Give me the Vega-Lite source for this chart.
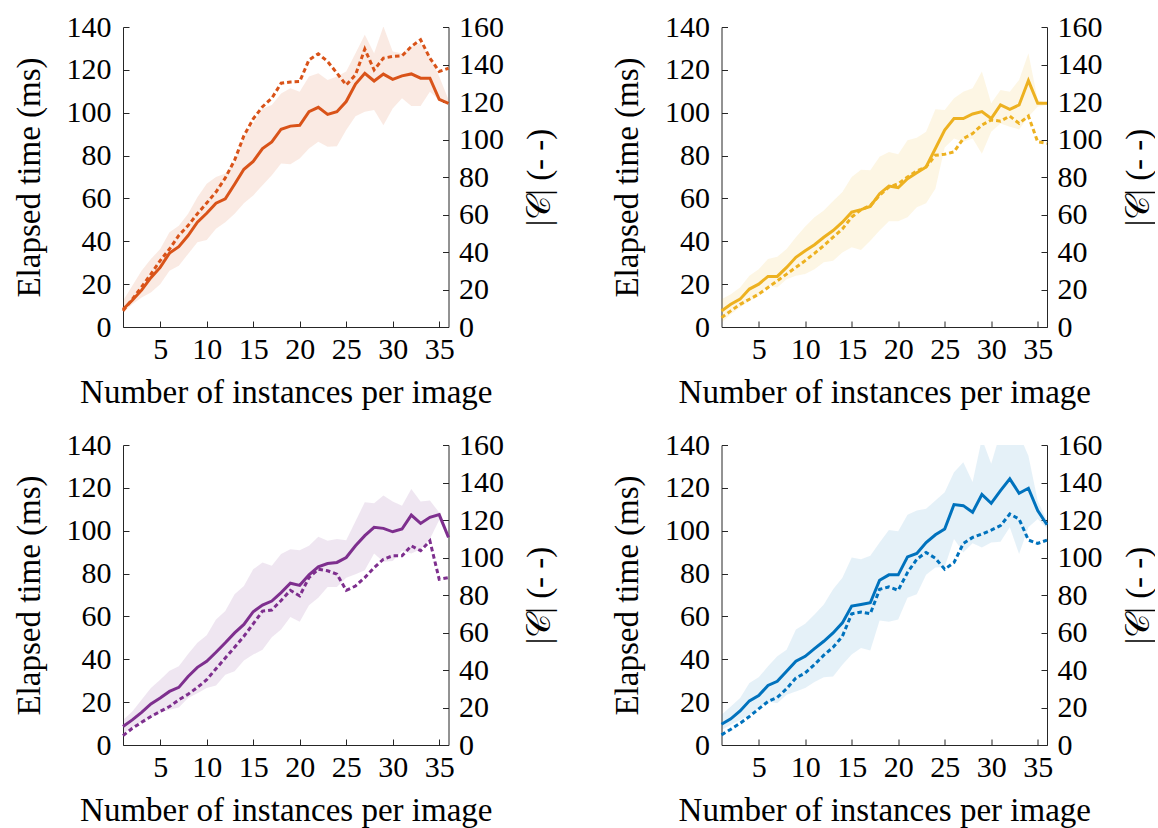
{
  "$schema": "https://vega.github.io/schema/vega-lite/v6.json",
  "padding": {"left": 12, "top": 12, "right": 0, "bottom": 0},
  "background": "white",
  "datasets": {
    "p1": [
      {"x":1,"t":8.3,"c":8.6,"lo":6.7,"hi":12.2},
      {"x":2,"t":12.5,"c":14.8,"lo":10.6,"hi":19.2},
      {"x":3,"t":17.2,"c":21.4,"lo":13.75,"hi":26.2},
      {"x":4,"t":23,"c":28.2,"lo":16.1,"hi":31.7},
      {"x":5,"t":27.8,"c":35.4,"lo":20,"hi":36.4},
      {"x":6,"t":34.5,"c":41.6,"lo":26.25,"hi":44.2},
      {"x":7,"t":37.5,"c":48.8,"lo":28.6,"hi":47.3},
      {"x":8,"t":42.7,"c":54.1,"lo":34.1,"hi":52.8},
      {"x":9,"t":48.9,"c":60.4,"lo":39.5,"hi":60.6},
      {"x":10,"t":53.1,"c":66.1,"lo":40.6,"hi":66.9},
      {"x":11,"t":57.8,"c":72,"lo":45.8,"hi":70},
      {"x":12,"t":59.8,"c":79.5,"lo":48.9,"hi":71.6},
      {"x":13,"t":66.6,"c":89,"lo":52.8,"hi":77},
      {"x":14,"t":73.6,"c":102,"lo":57.8,"hi":88.75},
      {"x":15,"t":77.3,"c":111,"lo":61.4,"hi":95},
      {"x":16,"t":83.3,"c":117.5,"lo":66.1,"hi":102},
      {"x":17,"t":86.4,"c":122,"lo":70.8,"hi":103.6},
      {"x":18,"t":92.3,"c":130,"lo":76.25,"hi":109},
      {"x":19,"t":93.75,"c":130.7,"lo":75.9,"hi":111.4},
      {"x":20,"t":94.1,"c":130.9,"lo":78.6,"hi":109.8},
      {"x":21,"t":100.5,"c":142.5,"lo":83.3,"hi":116.9},
      {"x":22,"t":102.5,"c":145.7,"lo":86.4,"hi":118.4},
      {"x":23,"t":99.2,"c":141.6,"lo":84.1,"hi":115.3},
      {"x":24,"t":100.5,"c":135.4,"lo":84.4,"hi":116.9},
      {"x":25,"t":105.2,"c":129.1,"lo":91.9,"hi":119.2},
      {"x":26,"t":113.4,"c":134.5,"lo":98.4,"hi":127.8},
      {"x":27,"t":118.4,"c":148.2,"lo":100.5,"hi":136.4},
      {"x":28,"t":114.8,"c":137.1,"lo":101.25,"hi":127.8},
      {"x":29,"t":118,"c":143.4,"lo":94.2,"hi":140.3},
      {"x":30,"t":115.6,"c":144.3,"lo":102,"hi":128.6},
      {"x":31,"t":117.2,"c":144.6,"lo":106.7,"hi":127.8},
      {"x":32,"t":118.1,"c":149.6,"lo":103.1,"hi":130.9},
      {"x":33,"t":116.1,"c":153.2,"lo":103.1,"hi":132.5},
      {"x":34,"t":116.1,"c":143.4,"lo":109.8,"hi":126.25},
      {"x":35,"t":106.25,"c":136.3,"lo":105.9,"hi":116.9},
      {"x":36,"t":104.4,"c":138,"lo":103.6,"hi":106}
    ],
    "p2": [
      {"x":1,"t":7.5,"c":5,"lo":2,"hi":13},
      {"x":2,"t":10.6,"c":8.6,"lo":5.9,"hi":15.3},
      {"x":3,"t":13,"c":12.1,"lo":9.1,"hi":18.4},
      {"x":4,"t":17.7,"c":14.8,"lo":12.2,"hi":23.9},
      {"x":5,"t":20,"c":17.5,"lo":14.5,"hi":27},
      {"x":6,"t":23.6,"c":21.1,"lo":19.2,"hi":31.7},
      {"x":7,"t":23.6,"c":24.6,"lo":18.4,"hi":32.8},
      {"x":8,"t":27.8,"c":28.2,"lo":22.3,"hi":36.4},
      {"x":9,"t":32.5,"c":31.8,"lo":23.9,"hi":41.9},
      {"x":10,"t":35.6,"c":35.4,"lo":24.7,"hi":46.9},
      {"x":11,"t":38.4,"c":39.3,"lo":27,"hi":51.25},
      {"x":12,"t":41.9,"c":43.4,"lo":30.2,"hi":54.4},
      {"x":13,"t":45,"c":47.9,"lo":30.9,"hi":58.75},
      {"x":14,"t":48.9,"c":52.3,"lo":34.8,"hi":63},
      {"x":15,"t":53.6,"c":58.6,"lo":37.2,"hi":70},
      {"x":16,"t":54.8,"c":62.5,"lo":35.9,"hi":73.4},
      {"x":17,"t":56.25,"c":64.8,"lo":40.3,"hi":73.1},
      {"x":18,"t":62.2,"c":70.2,"lo":45,"hi":79.4},
      {"x":19,"t":65.8,"c":74.6,"lo":49.4,"hi":81.7},
      {"x":20,"t":65,"c":76.4,"lo":49.4,"hi":80.6},
      {"x":21,"t":69.2,"c":80,"lo":51.25,"hi":87.2},
      {"x":22,"t":72,"c":83.2,"lo":55.9,"hi":88.3},
      {"x":23,"t":74.7,"c":85.4,"lo":57.8,"hi":91.1},
      {"x":24,"t":83.3,"c":91.6,"lo":64.5,"hi":101.6},
      {"x":25,"t":91.9,"c":92.1,"lo":83.75,"hi":101.25},
      {"x":26,"t":97.3,"c":93.4,"lo":88,"hi":106.7},
      {"x":27,"t":97.3,"c":100.5,"lo":86.4,"hi":109.8},
      {"x":28,"t":99.4,"c":103.2,"lo":88,"hi":111.4},
      {"x":29,"t":100.5,"c":107.7,"lo":80.9,"hi":119.2},
      {"x":30,"t":97.3,"c":110.4,"lo":91.1,"hi":104.4},
      {"x":31,"t":103.6,"c":109.8,"lo":95,"hi":110.6},
      {"x":32,"t":101.6,"c":112.5,"lo":93.4,"hi":109.8},
      {"x":33,"t":103.6,"c":108.6,"lo":92.2,"hi":115.3},
      {"x":34,"t":115,"c":112.5,"lo":98.1,"hi":127.8},
      {"x":35,"t":104.4,"c":98.75,"lo":102.8,"hi":106},
      {"x":36,"t":104.4,"c":97.9,"lo":103.6,"hi":104.4}
    ],
    "p3": [
      {"x":1,"t":8.6,"c":5,"lo":5.5,"hi":11.7},
      {"x":2,"t":11.7,"c":8.9,"lo":8.1,"hi":15.6},
      {"x":3,"t":15.2,"c":12.1,"lo":10.9,"hi":21.1},
      {"x":4,"t":19.2,"c":15.2,"lo":12.5,"hi":26.6},
      {"x":5,"t":21.9,"c":17.9,"lo":15.2,"hi":30.5},
      {"x":6,"t":25,"c":20.5,"lo":16.4,"hi":34.7},
      {"x":7,"t":26.9,"c":24.1,"lo":17.5,"hi":36.7},
      {"x":8,"t":32,"c":27.1,"lo":21.9,"hi":42.5},
      {"x":9,"t":36.25,"c":30.7,"lo":24.2,"hi":47.7},
      {"x":10,"t":39.1,"c":34.8,"lo":26.6,"hi":51.25},
      {"x":11,"t":43.3,"c":40.7,"lo":27.8,"hi":58.6},
      {"x":12,"t":47.7,"c":46.4,"lo":32.8,"hi":62.5},
      {"x":13,"t":52.3,"c":52.1,"lo":34.4,"hi":70.3},
      {"x":14,"t":56.25,"c":58,"lo":39.4,"hi":74.2},
      {"x":15,"t":62.2,"c":64.6,"lo":42.2,"hi":82},
      {"x":16,"t":65.3,"c":71.4,"lo":44.5,"hi":85.2},
      {"x":17,"t":67.2,"c":72,"lo":50.3,"hi":83.6},
      {"x":18,"t":71.1,"c":77.1,"lo":53.9,"hi":89.1},
      {"x":19,"t":75.5,"c":82.5,"lo":59.7,"hi":91.4},
      {"x":20,"t":74.5,"c":79.5,"lo":57.5,"hi":90.9},
      {"x":21,"t":79.4,"c":89.3,"lo":65.2,"hi":93},
      {"x":22,"t":83.1,"c":93.75,"lo":68.75,"hi":97.2},
      {"x":23,"t":84.7,"c":92.9,"lo":73.75,"hi":95.3},
      {"x":24,"t":85.2,"c":91.1,"lo":73.75,"hi":96.1},
      {"x":25,"t":87.5,"c":82.5,"lo":78.1,"hi":95.6},
      {"x":26,"t":93,"c":84.8,"lo":79.7,"hi":104.4},
      {"x":27,"t":97.7,"c":89.3,"lo":81.6,"hi":113.3},
      {"x":28,"t":101.6,"c":94.6,"lo":89.4,"hi":112.8},
      {"x":29,"t":101.1,"c":99.1,"lo":85.5,"hi":116.4},
      {"x":30,"t":99.5,"c":100.9,"lo":85.9,"hi":113.6},
      {"x":31,"t":100.8,"c":100.9,"lo":90.6,"hi":111.7},
      {"x":32,"t":107.3,"c":106.25,"lo":89.4,"hi":119.5},
      {"x":33,"t":103.4,"c":103.6,"lo":91.4,"hi":113.6},
      {"x":34,"t":106.25,"c":108.9,"lo":96.1,"hi":114.1},
      {"x":35,"t":107.5,"c":88.4,"lo":105,"hi":108.5},
      {"x":36,"t":96.9,"c":89.3,"lo":96.5,"hi":97.3}
    ],
    "p4": [
      {"x":1,"t":9.7,"c":5.4,"lo":7,"hi":14.1},
      {"x":2,"t":12.2,"c":8.4,"lo":9.4,"hi":18},
      {"x":3,"t":15.9,"c":11.6,"lo":11.7,"hi":21.9},
      {"x":4,"t":20.6,"c":15.2,"lo":14.1,"hi":28.9},
      {"x":5,"t":23.1,"c":19.3,"lo":17.2,"hi":31.6},
      {"x":6,"t":27.8,"c":23.2,"lo":20.3,"hi":36.7},
      {"x":7,"t":29.7,"c":25.4,"lo":19.5,"hi":41.4},
      {"x":8,"t":34.4,"c":30,"lo":23.4,"hi":44.5},
      {"x":9,"t":39.1,"c":35.7,"lo":25,"hi":53.9},
      {"x":10,"t":41.4,"c":38.4,"lo":26.6,"hi":56.6},
      {"x":11,"t":45,"c":42.9,"lo":29.4,"hi":60.9},
      {"x":12,"t":48.4,"c":47.9,"lo":31.6,"hi":65.6},
      {"x":13,"t":52.3,"c":52.1,"lo":32,"hi":72.7},
      {"x":14,"t":57,"c":58,"lo":37.5,"hi":78.1},
      {"x":15,"t":64.8,"c":70,"lo":42.2,"hi":87.5},
      {"x":16,"t":65.6,"c":70.9,"lo":45.3,"hi":86.7},
      {"x":17,"t":66.4,"c":70,"lo":44.1,"hi":88.3},
      {"x":18,"t":76.9,"c":83,"lo":58.1,"hi":94.5},
      {"x":19,"t":79.4,"c":84.3,"lo":57.5,"hi":100.3},
      {"x":20,"t":79.4,"c":82.5,"lo":58.6,"hi":99.7},
      {"x":21,"t":87.8,"c":92,"lo":68.75,"hi":107.5},
      {"x":22,"t":89.4,"c":99.1,"lo":70.3,"hi":109.4},
      {"x":23,"t":94.5,"c":102.7,"lo":79.4,"hi":110.2},
      {"x":24,"t":98.1,"c":99.6,"lo":82.8,"hi":114.1},
      {"x":25,"t":100.8,"c":93.75,"lo":83.1,"hi":118},
      {"x":26,"t":112.2,"c":97.3,"lo":96.1,"hi":127.3},
      {"x":27,"t":111.7,"c":107.5,"lo":89.8,"hi":132},
      {"x":28,"t":108.6,"c":110.7,"lo":94.1,"hi":122.7},
      {"x":29,"t":116.9,"c":112.5,"lo":92.2,"hi":143},
      {"x":30,"t":112.8,"c":114.6,"lo":94.5,"hi":131.25},
      {"x":31,"t":118.75,"c":117,"lo":94.8,"hi":146},
      {"x":32,"t":124.2,"c":123.2,"lo":101.6,"hi":150},
      {"x":33,"t":117.5,"c":120.5,"lo":89.1,"hi":145},
      {"x":34,"t":119.8,"c":109.3,"lo":101.6,"hi":135},
      {"x":35,"t":109.4,"c":107.5,"lo":105.5,"hi":114},
      {"x":36,"t":102.8,"c":109.3,"lo":101,"hi":104.7}
    ]
  },
  "columns": 2,
  "spacing": {"row": 118, "column": 272.5},
  "bounds": "flush",
  "concat": [
    {
      "width": 325.5, "height": 300,
      "data": {"name": "p1"},
      "layer": [
        {"mark": {"type": "area", "color": "#D95319", "opacity": 0.12, "clip": true},
         "encoding": {
           "x": {"field": "x", "type": "quantitative", "scale": {"domain": [1, 36], "nice": false}, "axis": {"values": [5,10,15,20,25,30,35], "title": "Number of instances per image"}},
           "y": {"field": "lo", "type": "quantitative", "scale": {"domain": [0, 140], "nice": false}, "axis": null},
           "y2": {"field": "hi"}}},
        {"mark": {"type": "line", "color": "#D95319", "strokeWidth": 3},
         "encoding": {
           "x": {"field": "x", "type": "quantitative", "scale": {"domain": [1, 36], "nice": false}, "axis": {"values": [5,10,15,20,25,30,35], "title": "Number of instances per image"}},
           "y": {"field": "t", "type": "quantitative", "scale": {"domain": [0, 140], "nice": false}, "axis": {"orient": "left", "values": [0,20,40,60,80,100,120,140], "title": "Elapsed time (ms)"}}}},
        {"mark": {"type": "line", "color": "#D95319", "strokeWidth": 3, "strokeDash": [4.5, 3]},
         "encoding": {
           "x": {"field": "x", "type": "quantitative", "scale": {"domain": [1, 36], "nice": false}, "axis": {"values": [5,10,15,20,25,30,35], "title": "Number of instances per image"}},
           "y": {"field": "c", "type": "quantitative", "scale": {"domain": [0, 160], "nice": false}, "axis": {"orient": "right", "values": [0,20,40,60,80,100,120,140,160], "title": "|𝒞| (- -)", "titleAngle": -90, "titleBaseline": "top"}}}}
      ],
      "resolve": {"scale": {"y": "independent"}}
    },
    {
      "width": 325.5, "height": 300,
      "data": {"name": "p2"},
      "layer": [
        {"mark": {"type": "area", "color": "#EDB120", "opacity": 0.12, "clip": true},
         "encoding": {
           "x": {"field": "x", "type": "quantitative", "scale": {"domain": [1, 36], "nice": false}, "axis": {"values": [5,10,15,20,25,30,35], "title": "Number of instances per image"}},
           "y": {"field": "lo", "type": "quantitative", "scale": {"domain": [0, 140], "nice": false}, "axis": null},
           "y2": {"field": "hi"}}},
        {"mark": {"type": "line", "color": "#EDB120", "strokeWidth": 3},
         "encoding": {
           "x": {"field": "x", "type": "quantitative", "scale": {"domain": [1, 36], "nice": false}, "axis": {"values": [5,10,15,20,25,30,35], "title": "Number of instances per image"}},
           "y": {"field": "t", "type": "quantitative", "scale": {"domain": [0, 140], "nice": false}, "axis": {"orient": "left", "values": [0,20,40,60,80,100,120,140], "title": "Elapsed time (ms)"}}}},
        {"mark": {"type": "line", "color": "#EDB120", "strokeWidth": 3, "strokeDash": [4.5, 3]},
         "encoding": {
           "x": {"field": "x", "type": "quantitative", "scale": {"domain": [1, 36], "nice": false}, "axis": {"values": [5,10,15,20,25,30,35], "title": "Number of instances per image"}},
           "y": {"field": "c", "type": "quantitative", "scale": {"domain": [0, 160], "nice": false}, "axis": {"orient": "right", "values": [0,20,40,60,80,100,120,140,160], "title": "|𝒞| (- -)", "titleAngle": -90, "titleBaseline": "top"}}}}
      ],
      "resolve": {"scale": {"y": "independent"}}
    },
    {
      "width": 325.5, "height": 300,
      "data": {"name": "p3"},
      "layer": [
        {"mark": {"type": "area", "color": "#7E2F8E", "opacity": 0.12, "clip": true},
         "encoding": {
           "x": {"field": "x", "type": "quantitative", "scale": {"domain": [1, 36], "nice": false}, "axis": {"values": [5,10,15,20,25,30,35], "title": "Number of instances per image"}},
           "y": {"field": "lo", "type": "quantitative", "scale": {"domain": [0, 140], "nice": false}, "axis": null},
           "y2": {"field": "hi"}}},
        {"mark": {"type": "line", "color": "#7E2F8E", "strokeWidth": 3},
         "encoding": {
           "x": {"field": "x", "type": "quantitative", "scale": {"domain": [1, 36], "nice": false}, "axis": {"values": [5,10,15,20,25,30,35], "title": "Number of instances per image"}},
           "y": {"field": "t", "type": "quantitative", "scale": {"domain": [0, 140], "nice": false}, "axis": {"orient": "left", "values": [0,20,40,60,80,100,120,140], "title": "Elapsed time (ms)"}}}},
        {"mark": {"type": "line", "color": "#7E2F8E", "strokeWidth": 3, "strokeDash": [4.5, 3]},
         "encoding": {
           "x": {"field": "x", "type": "quantitative", "scale": {"domain": [1, 36], "nice": false}, "axis": {"values": [5,10,15,20,25,30,35], "title": "Number of instances per image"}},
           "y": {"field": "c", "type": "quantitative", "scale": {"domain": [0, 160], "nice": false}, "axis": {"orient": "right", "values": [0,20,40,60,80,100,120,140,160], "title": "|𝒞| (- -)", "titleAngle": -90, "titleBaseline": "top"}}}}
      ],
      "resolve": {"scale": {"y": "independent"}}
    },
    {
      "width": 325.5, "height": 300,
      "data": {"name": "p4"},
      "layer": [
        {"mark": {"type": "area", "color": "#0072BD", "opacity": 0.1, "clip": true},
         "encoding": {
           "x": {"field": "x", "type": "quantitative", "scale": {"domain": [1, 36], "nice": false}, "axis": {"values": [5,10,15,20,25,30,35], "title": "Number of instances per image"}},
           "y": {"field": "lo", "type": "quantitative", "scale": {"domain": [0, 140], "nice": false}, "axis": null},
           "y2": {"field": "hi"}}},
        {"mark": {"type": "line", "color": "#0072BD", "strokeWidth": 3},
         "encoding": {
           "x": {"field": "x", "type": "quantitative", "scale": {"domain": [1, 36], "nice": false}, "axis": {"values": [5,10,15,20,25,30,35], "title": "Number of instances per image"}},
           "y": {"field": "t", "type": "quantitative", "scale": {"domain": [0, 140], "nice": false}, "axis": {"orient": "left", "values": [0,20,40,60,80,100,120,140], "title": "Elapsed time (ms)"}}}},
        {"mark": {"type": "line", "color": "#0072BD", "strokeWidth": 3, "strokeDash": [4.5, 3]},
         "encoding": {
           "x": {"field": "x", "type": "quantitative", "scale": {"domain": [1, 36], "nice": false}, "axis": {"values": [5,10,15,20,25,30,35], "title": "Number of instances per image"}},
           "y": {"field": "c", "type": "quantitative", "scale": {"domain": [0, 160], "nice": false}, "axis": {"orient": "right", "values": [0,20,40,60,80,100,120,140,160], "title": "|𝒞| (- -)", "titleAngle": -90, "titleBaseline": "top"}}}}
      ],
      "resolve": {"scale": {"y": "independent"}}
    }
  ],
  "config": {
    "view": {"stroke": null},
    "font": "Liberation Serif",
    "axis": {
      "grid": false,
      "domainColor": "#262626",
      "tickColor": "#262626",
      "domainWidth": 1,
      "tickWidth": 1,
      "tickSize": -6,
      "labelColor": "#000000",
      "titleColor": "#000000",
      "labelFont": "Liberation Serif",
      "titleFont": "Liberation Serif",
      "labelFontSize": 30,
      "titleFontSize": 33,
      "titleFontWeight": "normal",
      "labelFlush": false,
      "labelOverlap": false
    },
    "axisX": {"labelPadding": 13.6, "titlePadding": 12},
    "axisLeft": {"labelPadding": 18, "titlePadding": 20},
    "axisRight": {"labelPadding": 16, "titlePadding": 20}
  }
}
